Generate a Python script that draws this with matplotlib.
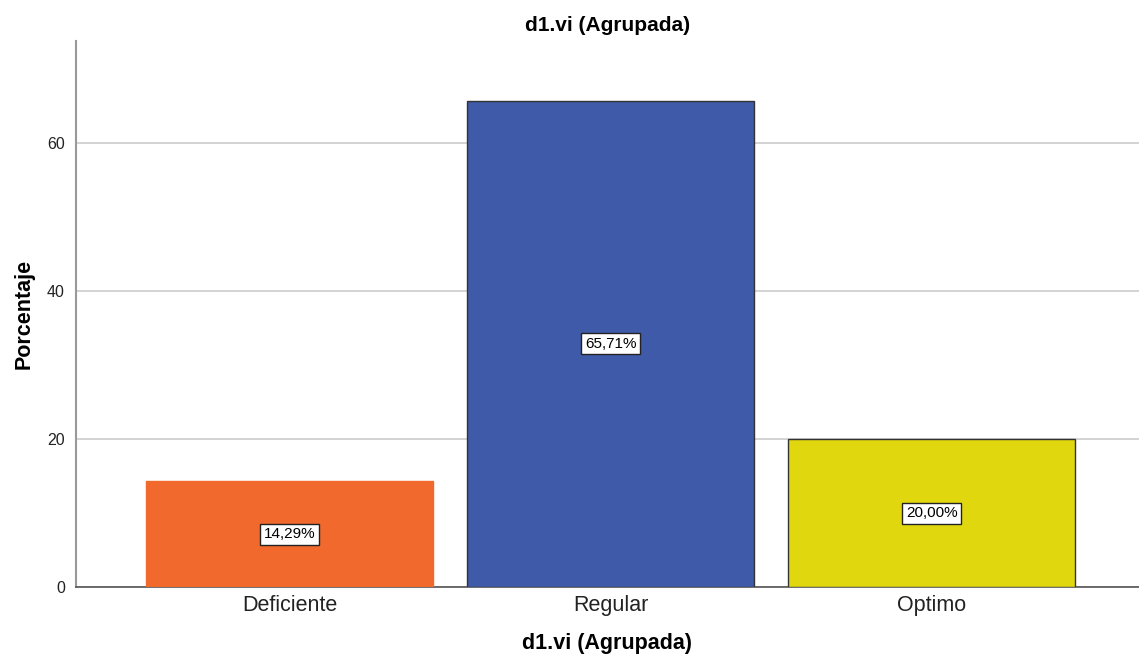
import matplotlib
matplotlib.use("Agg")
import matplotlib.pyplot as plt

categorias = ["Deficiente", "Regular", "Optimo"]
porcentajes = [14.29, 65.71, 20.00]
etiquetas = ["14,29%", "65,71%", "20,00%"]
colores = ["#F2692D", "#3E5AA8", "#E1D70F"]
bordes = ["#F2692D", "#333333", "#333333"]

plt.rcParams['font.family'] = ['Liberation Sans', 'DejaVu Sans']

fig = plt.figure(figsize=(11.39, 6.66), dpi=100)
ax = fig.add_axes([0.0667, 0.1186, 0.9333, 0.8198])

x = range(len(categorias))
ax.bar(x, porcentajes, width=0.894, color=colores, edgecolor=bordes, linewidth=1, zorder=3)

# etiquetas dentro das barras
for i, (v, t) in enumerate(zip(porcentajes, etiquetas)):
    ax.text(i, v / 2, t, ha='center', va='center', fontsize=11, zorder=4,
            bbox=dict(fc='white', ec='#222222', lw=1, pad=2.5))

ax.set_xlim(-0.665, 2.646)
ax.set_ylim(0, 73.8)
ax.set_yticks([0, 20, 40, 60])
ax.yaxis.grid(True, color='#cccccc', lw=1.2, zorder=0)
ax.set_xticks(list(x))
ax.set_xticklabels(categorias, fontsize=15.5, color='#222222')
ax.tick_params(axis='y', labelsize=11.5, length=0, pad=8, labelcolor='#222222')
ax.tick_params(axis='x', length=0, pad=6)

for s in ['top', 'right']:
    ax.spines[s].set_visible(False)
ax.spines['left'].set_color('#999999')
ax.spines['left'].set_linewidth(1.5)
ax.spines['bottom'].set_color('#555555')
ax.spines['bottom'].set_linewidth(1.2)

ax.set_title("d1.vi (Agrupada)", fontsize=15, fontweight='bold', pad=7)
ax.set_xlabel("d1.vi (Agrupada)", fontsize=15.5, fontweight='bold', labelpad=12)
ax.set_ylabel("Porcentaje", fontsize=15.5, fontweight='bold', labelpad=9)

fig.savefig("out.png", dpi=100)
